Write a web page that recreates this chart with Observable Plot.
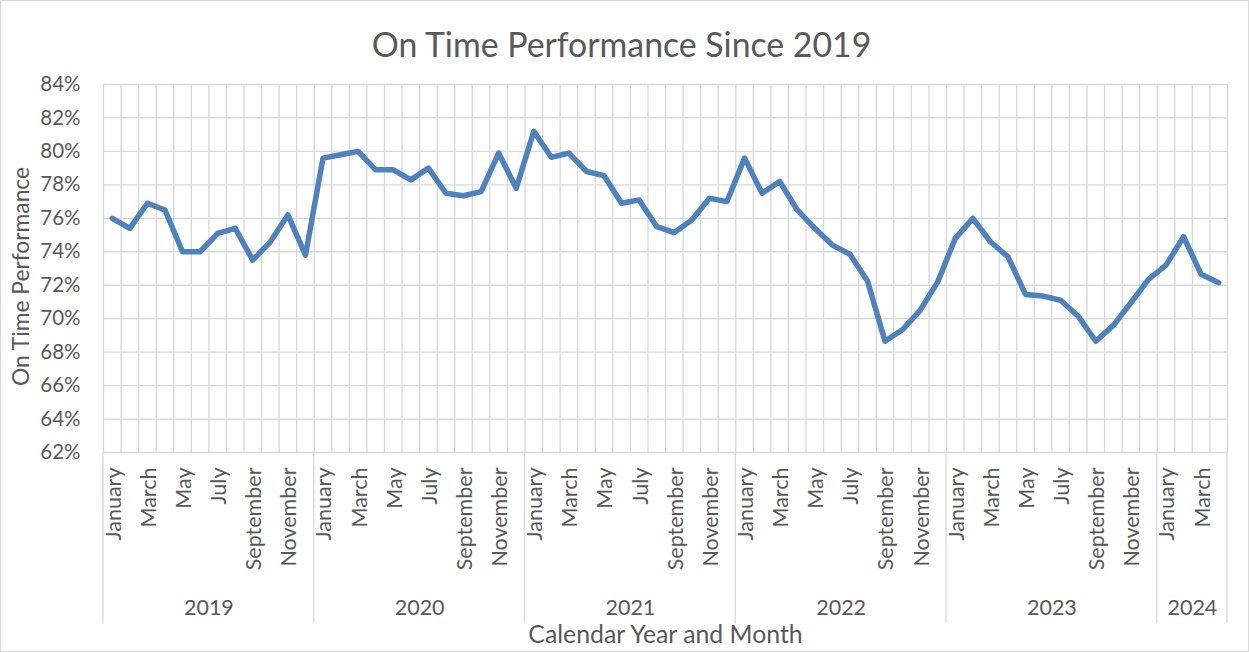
<!DOCTYPE html>
<html>
<head>
<meta charset="utf-8">
<script src="https://cdn.jsdelivr.net/npm/d3@7"></script>
<script src="https://cdn.jsdelivr.net/npm/@observablehq/plot@0.6"></script>
<style>
  html, body { margin: 0; padding: 0; background: #fff; }
  #chart { width: 1249px; height: 652px; }
  #chart svg { display: block; }
</style>
</head>
<body>
<div id="chart"></div>
<script>
// ---- Data ----
const years = [2019, 2020, 2021, 2022, 2023, 2024];
const monthsPerYear = [12, 12, 12, 12, 12, 4];
const monthNames = ["January","February","March","April","May","June","July","August","September","October","November","December"];
// On-time performance (%), Jan 2019 .. Apr 2024
const otp = [
  76.0, 75.4, 76.9, 76.5, 74.0, 74.0, 75.1, 75.4, 73.5, 74.6, 76.2, 73.8,   // 2019
  79.6, 79.8, 80.0, 78.9, 78.9, 78.3, 79.0, 77.5, 77.35, 77.6, 79.9, 77.8,  // 2020
  81.2, 79.65, 79.9, 78.8, 78.55, 76.9, 77.1, 75.5, 75.15, 75.9, 77.2, 77.0, // 2021
  79.6, 77.5, 78.2, 76.5, 75.4, 74.4, 73.85, 72.25, 68.65, 69.35, 70.5, 72.2, // 2022
  74.8, 76.0, 74.6, 73.7, 71.45, 71.35, 71.1, 70.15, 68.65, 69.6, 70.95, 72.35, // 2023
  73.2, 74.9, 72.65, 72.15  // 2024
];
const yTicks = [62, 64, 66, 68, 70, 72, 74, 76, 78, 80, 82, 84];
const labelMonths = ["January", "March", "May", "July", "September", "November"];

// ---- Build table ----
const rows = [];
years.forEach((yr, yi) => {
  for (let m = 0; m < monthsPerYear[yi]; m++) {
    rows.push({year: yr, month: monthNames[m], idx: rows.length});
  }
});
rows.forEach((r, i) => r.value = otp[i]);
const n = rows.length;
const yearBounds = [];
const yearMids = [];
{
  let start = 0;
  yearBounds.push(0);
  years.forEach((yr, yi) => {
    const end = start + monthsPerYear[yi];
    yearBounds.push(end);
    yearMids.push({year: yr, mid: (start + end) / 2});
    start = end;
  });
}
const cellLines = d3.range(0, n + 1);
const monthLabelRows = rows.filter(r => labelMonths.includes(r.month));

const FONT = "Lato, 'Noto Sans', sans-serif";
const GRAY = "#595959";
const GRID = "#d9d9d9";
const axisDepth = 171; // px below the plot for the category axis separators

const yearSeparators = (index, scales, values, dims) => {
  const g = d3.create("svg:g");
  const y0 = dims.height - dims.marginBottom;
  for (const b of yearBounds) {
    g.append("line")
      .attr("x1", scales.x(b)).attr("x2", scales.x(b))
      .attr("y1", y0).attr("y2", y0 + axisDepth)
      .attr("stroke", GRID).attr("stroke-width", 1.3);
  }
  return g.node();
};

const chart = Plot.plot({
  width: 1249,
  height: 652,
  marginTop: 84,
  marginBottom: 200,
  marginLeft: 103,
  marginRight: 22,
  style: {fontFamily: FONT, background: "#fff", overflow: "visible"},
  x: {type: "linear", domain: [0, n], axis: null},
  y: {type: "linear", domain: [62, 84], axis: null},
  marks: [
    // chart border
    () => {
      const r = d3.create("svg:rect")
        .attr("x", 0.5).attr("y", 0.5).attr("width", 1248).attr("height", 651)
        .attr("fill", "none").attr("stroke", GRID).attr("stroke-width", 1);
      return r.node();
    },
    // gridlines
    Plot.ruleY(yTicks, {y: d => d, x1: 0, x2: n, stroke: GRID, strokeWidth: 1.3, strokeOpacity: 1}),
    Plot.ruleX(cellLines, {x: d => d, y1: 62, y2: 84, stroke: GRID, strokeWidth: 1.3, strokeOpacity: 1}),
    yearSeparators,
    // y tick labels
    Plot.text(yTicks, {x: 0, y: d => d, text: d => d + "%", textAnchor: "end", lineAnchor: "middle", dx: -23, fill: GRAY, fontSize: 20.5}),
    // month labels
    Plot.text(monthLabelRows, {x: d => d.idx + 0.5, y: 62, text: "month", rotate: -90, textAnchor: "end", lineAnchor: "middle", dy: 15, dx: 1.5, fill: GRAY, fontSize: 21.5}),
    // year labels
    Plot.text(yearMids, {x: "mid", y: 62, text: d => String(d.year), lineAnchor: "middle", dy: 156, fill: GRAY, fontSize: 21.5}),
    // data line
    Plot.line(rows, {x: d => d.idx + 0.5, y: "value", stroke: "#4f81bd", strokeWidth: 5.5, strokeLinejoin: "round", strokeLinecap: "round"}),
    // title
    Plot.text(["On Time Performance Since 2019"], {frameAnchor: "top", text: d => d, textAnchor: "middle", lineAnchor: "middle", dx: -44, dy: -38, fill: GRAY, fontSize: 33.8}),
    // y axis title
    Plot.text(["On Time Performance"], {frameAnchor: "left", text: d => d, textAnchor: "middle", rotate: -90, lineAnchor: "middle", dx: -82, dy: 8, fill: GRAY, fontSize: 22.8}),
    // x axis title
    Plot.text(["Calendar Year and Month"], {frameAnchor: "bottom", text: d => d, textAnchor: "middle", lineAnchor: "middle", dy: 183, fill: GRAY, fontSize: 24.8})
  ]
});
document.getElementById("chart").appendChild(chart);
</script>
</body>
</html>
